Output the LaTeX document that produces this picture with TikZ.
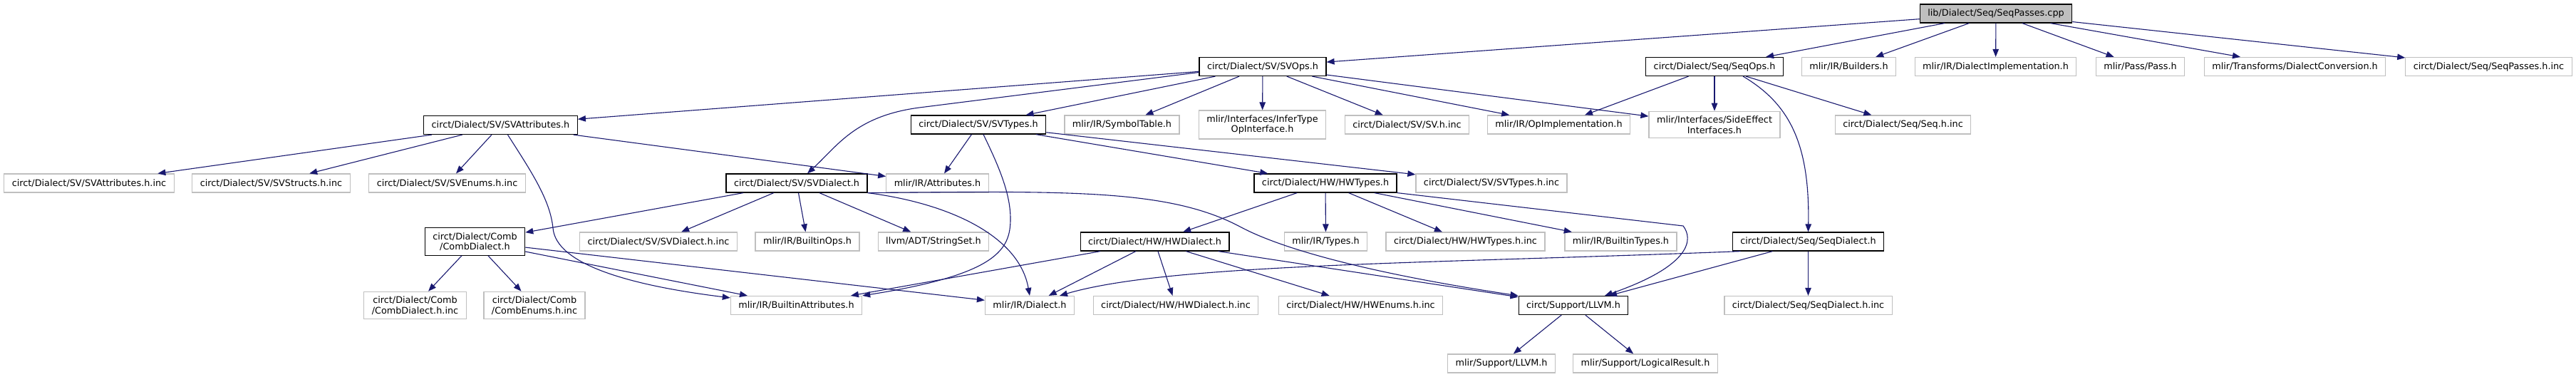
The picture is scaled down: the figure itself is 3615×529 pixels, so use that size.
\documentclass[tikz,border=0pt]{standalone}
\usepackage{fontspec}
\setmainfont{DejaVu Sans}
\usetikzlibrary{arrows.meta}

\definecolor{edgeblue}{HTML}{191970}
\definecolor{boxgrey}{HTML}{BFBFBF}

\begin{document}
\begin{tikzpicture}[x=1pt,y=-1pt]
    % Styles for the boxes and the include arrows
    \tikzset{
        f_base/.style={rectangle, fill=white, align=center, inner xsep=11pt, inner ysep=6.5pt,
            minimum height=26pt, font=\fontsize{12.8}{14.5}\selectfont},
        f_main/.style={f_base, draw=black, line width=1.2pt},
        f_ext/.style={f_base, draw=boxgrey, line width=1.2pt},
        f_root/.style={f_main, fill=boxgrey},
        e_dep/.style={draw=edgeblue, line width=1.1pt, -{Triangle[length=11pt,width=8.5pt]}}
    }

    % Canvas
    \fill[white] (0,0) rectangle (3615,529);
    \useasboundingbox (0,0) rectangle (3615,529);

    % Root file
    \node[f_root] (seqpasses) at (2801,19) {lib/Dialect/Seq/SeqPasses.cpp};

    % Level 1
    \node[f_main] (svops) at (1772,93.5) {circt/Dialect/SV/SVOps.h};
    \node[f_main] (seqops) at (2406,93.5) {circt/Dialect/Seq/SeqOps.h};
    \node[f_ext] (builders) at (2594.5,93.5) {mlir/IR/Builders.h};
    \node[f_ext] (dialimpl) at (2800.5,93.5) {mlir/IR/DialectImplementation.h};
    \node[f_ext] (pass) at (3003.5,93.5) {mlir/Pass/Pass.h};
    \node[f_ext] (dialconv) at (3220.5,93.5) {mlir/Transforms/DialectConversion.h};
    \node[f_ext] (seqpassesinc) at (3492.5,93.5) {circt/Dialect/Seq/SeqPasses.h.inc};

    % Level 2
    \node[f_main] (svattr) at (702.5,175.5) {circt/Dialect/SV/SVAttributes.h};
    \node[f_main] (svtypes) at (1373,175) {circt/Dialect/SV/SVTypes.h};
    \node[f_ext] (symtab) at (1574.5,175) {mlir/IR/SymbolTable.h};
    \node[f_ext] (infertype) at (1771.5,175) {mlir/Interfaces/InferType\\OpInterface.h};
    \node[f_ext] (svinc) at (1974.5,175) {circt/Dialect/SV/SV.h.inc};
    \node[f_ext] (opimpl) at (2187.5,175) {mlir/IR/OpImplementation.h};
    \node[f_ext] (sideeffect) at (2406,175) {mlir/Interfaces/SideEffect\\Interfaces.h};
    \node[f_ext] (seqinc) at (2670.5,175) {circt/Dialect/Seq/Seq.h.inc};

    % Level 3
    \node[f_ext] (svattrinc) at (125,257) {circt/Dialect/SV/SVAttributes.h.inc};
    \node[f_ext] (svstructs) at (380.5,257) {circt/Dialect/SV/SVStructs.h.inc};
    \node[f_ext] (svenums) at (627.5,257) {circt/Dialect/SV/SVEnums.h.inc};
    \node[f_main] (svdialect) at (1118,257) {circt/Dialect/SV/SVDialect.h};
    \node[f_ext] (attributes) at (1315.5,257) {mlir/IR/Attributes.h};
    \node[f_main] (hwtypes) at (1860,257) {circt/Dialect/HW/HWTypes.h};
    \node[f_ext] (svtypesinc) at (2093,257) {circt/Dialect/SV/SVTypes.h.inc};

    % Level 4
    \node[f_main] (combdialect) at (666.5,339) {circt/Dialect/Comb\\/CombDialect.h};
    \node[f_ext] (svdialectinc) at (924,339) {circt/Dialect/SV/SVDialect.h.inc};
    \node[f_ext] (builtinops) at (1133,339) {mlir/IR/BuiltinOps.h};
    \node[f_ext] (stringset) at (1310,339) {llvm/ADT/StringSet.h};
    \node[f_main] (hwdialect) at (1620.5,339) {circt/Dialect/HW/HWDialect.h};
    \node[f_ext] (types) at (1860.5,339) {mlir/IR/Types.h};
    \node[f_ext] (hwtypesinc) at (2056.5,339) {circt/Dialect/HW/HWTypes.h.inc};
    \node[f_ext] (builtintypes) at (2274.5,339) {mlir/IR/BuiltinTypes.h};
    \node[f_main] (seqdialect) at (2537.5,339) {circt/Dialect/Seq/SeqDialect.h};

    % Level 5
    \node[f_ext] (combinc) at (582.5,428.5) {circt/Dialect/Comb\\/CombDialect.h.inc};
    \node[f_ext] (combenums) at (750,428.5) {circt/Dialect/Comb\\/CombEnums.h.inc};
    \node[f_ext] (builtinattr) at (1117.5,428.5) {mlir/IR/BuiltinAttributes.h};
    \node[f_ext] (dialect) at (1445,428.5) {mlir/IR/Dialect.h};
    \node[f_ext] (hwdialectinc) at (1650,428.5) {circt/Dialect/HW/HWDialect.h.inc};
    \node[f_ext] (hwenums) at (1909.5,428.5) {circt/Dialect/HW/HWEnums.h.inc};
    \node[f_main] (llvm) at (2208,428.5) {circt/Support/LLVM.h};
    \node[f_ext] (seqdialectinc) at (2537.5,428.5) {circt/Dialect/Seq/SeqDialect.h.inc};

    % Level 6
    \node[f_ext] (mlirllvm) at (2107,510) {mlir/Support/LLVM.h};
    \node[f_ext] (logicalresult) at (2309,510) {mlir/Support/LogicalResult.h};

    % Straight includes
    \foreach \a/\b in {seqpasses/svops, seqpasses/seqops, seqpasses/builders, seqpasses/dialimpl,
        seqpasses/pass, seqpasses/dialconv, seqpasses/seqpassesinc,
        svops/svattr, svops/svtypes, svops/symtab, svops/infertype, svops/svinc, svops/opimpl, svops/sideeffect,
        seqops/opimpl, seqops/sideeffect, seqops/seqinc,
        svattr/svattrinc, svattr/svstructs, svattr/svenums, svattr/attributes,
        svtypes/attributes, svtypes/hwtypes, svtypes/svtypesinc,
        svdialect/combdialect, svdialect/svdialectinc, svdialect/builtinops, svdialect/stringset,
        hwtypes/hwdialect, hwtypes/types, hwtypes/hwtypesinc, hwtypes/builtintypes,
        combdialect/combinc, combdialect/combenums, combdialect/builtinattr, combdialect/dialect,
        hwdialect/builtinattr, hwdialect/dialect, hwdialect/hwdialectinc, hwdialect/hwenums, hwdialect/llvm,
        seqdialect/llvm, seqdialect/seqdialectinc,
        llvm/mlirllvm, llvm/logicalresult} {
        \draw[e_dep] (\a) -- (\b);
    }

    % Bent includes
    \draw[e_dep] ([yshift=-8pt]svops.west) -- (1290,151)
        .. controls (1200,163) and (1175,205) .. ([xshift=15pt]svdialect.north);
    \draw[e_dep] ([xshift=10pt]svattr.south) .. controls (745,240) and (772,280) .. (776,320)
        .. controls (780,370) and (880,400) .. ([yshift=-3pt]builtinattr.north west);
    \draw[e_dep] ([xshift=7pt]svtypes.south) .. controls (1400,230) and (1418,270) .. (1418,307)
        .. controls (1418,350) and (1400,385) .. (builtinattr.north east);
    \draw[e_dep] (svdialect.south east) .. controls (1330,285) and (1430,330) .. (dialect.north);
    \draw[e_dep] (svdialect.south east) .. controls (1500,268) and (1640,265) .. (1740,318)
        .. controls (1790,345) and (1900,380) .. (llvm.north west);
    \draw[e_dep] (hwtypes.south east) -- (2362,317)
        .. controls (2376,335) and (2375,372) .. ([xshift=44pt]llvm.north);
    \draw[e_dep] ([xshift=40pt]seqops.south) .. controls (2510,145) and (2540,200) .. (seqdialect.north);
    \draw[e_dep] ([xshift=-95pt]seqdialect.south) .. controls (2000,370) and (1640,370)
        .. ([xshift=42pt]dialect.north);
\end{tikzpicture}
\end{document}
